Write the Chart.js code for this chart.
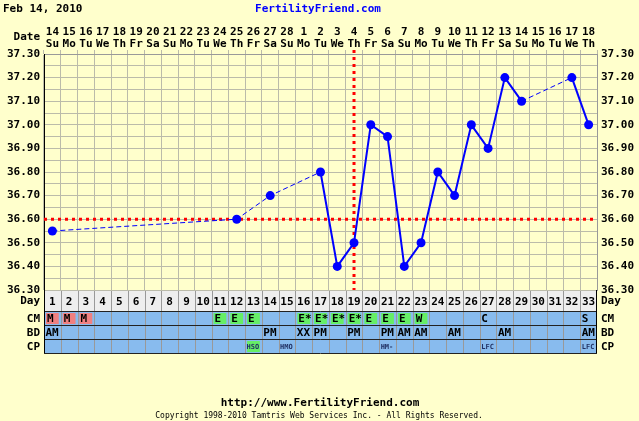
<!DOCTYPE html>
<html>
<head>
<meta charset="utf-8">
<script src="https://cdn.jsdelivr.net/npm/chart.js@4"></script>
<style>
  html, body { margin: 0; padding: 0; background: #ffffcc; }
  canvas { display: block; }
</style>
</head>
<body>
<canvas id="bbtChart" width="639" height="421"></canvas>
<script>
/*------------------------------DATA------------------------------*/
//Cykeldagar och datum
const cycleDays = ['1','2','3','4','5','6','7','8','9','10','11','12','13','14','15','16','17',
  '18','19','20','21','22','23','24','25','26','27','28','29','30','31','32','33'];
const dateNums = ['14','15','16','17','18','19','20','21','22','23','24','25','26','27','28',
  '1','2','3','4','5','6','7','8','9','10','11','12','13','14','15','16','17','18'];
const weekDays = ['Su','Mo','Tu','We','Th','Fr','Sa','Su','Mo','Tu','We','Th','Fr','Sa','Su',
  'Mo','Tu','We','Th','Fr','Sa','Su','Mo','Tu','We','Th','Fr','Sa','Su','Mo','Tu','We','Th'];

//Temperaturer, null = ingen mätning
const temps = [36.55, null, null, null, null, null, null, null, null, null, null, 36.60, null,
  36.70, null, null, 36.80, 36.40, 36.50, 37.00, 36.95, 36.40, 36.50, 36.80, 36.70, 37.00,
  36.90, 37.20, 37.10, null, null, 37.20, 37.00];

const coverLine = 36.60;
const ovulationDay = 19;

//Tabellrader under charten
const cmCodes = ['M','M','M','','','','','','','','E','E','E','','','E*','E*','E*','E*','E','E',
  'E','W','','','','C','','','','','','S'];
const bdCodes = ['AM','','','','','','','','','','','','','PM','','XX','PM','','PM','','PM','AM',
  'AM','','AM','','','AM','','','','','AM'];
const cpCodes = ['','','','','','','','','','','','','HSO','','HMO','','','','','','HM-','','',
  '','','','LFC','','','','','','LFC'];

/*------------------------------STYLE------------------------------*/
const pageColor = '#ffffcc';
const gridColor = '#bbbbaa';
const blue = '#0000ff';
const mono = '"DejaVu Sans Mono", monospace';
const dayRowH = 21;
const rowH = 14;

function cellColor(code) {
  if (code === 'M') return '#f08080';
  if (code === 'E' || code === 'E*' || code === 'W' || code === 'HSO') return '#66ee66';
  return null;
}

//Ritar bakgrund, röda linjer, tabell och texter
const sheetPlugin = {
  id: 'sheet',
  beforeDraw(chart) {
    const { ctx, chartArea: a } = chart;
    const xs = chart.scales.x;
    const cw = (a.right - a.left) / cycleDays.length;
    ctx.save();
    ctx.fillStyle = pageColor;
    ctx.fillRect(0, 0, chart.width, chart.height);
    //Day-raden
    ctx.fillStyle = '#eeeeee';
    ctx.fillRect(a.left, a.bottom, a.right - a.left, dayRowH);
    ctx.strokeStyle = '#999999';
    ctx.lineWidth = 1;
    for (let i = 1; i < cycleDays.length; i++) {
      const x = Math.round(xs.getPixelForValue(i) - cw / 2) + 0.5;
      ctx.beginPath();
      ctx.moveTo(x, a.bottom);
      ctx.lineTo(x, a.bottom + dayRowH);
      ctx.stroke();
    }
    ctx.restore();
  },
  beforeDatasetsDraw(chart) {
    const { ctx, chartArea: a } = chart;
    const ys = chart.scales.y;
    const xs = chart.scales.x;
    ctx.save();
    ctx.strokeStyle = '#ff0000';
    ctx.lineWidth = 3;
    ctx.setLineDash([3, 4]);
    const yc = ys.getPixelForValue(coverLine);
    ctx.beginPath();
    ctx.moveTo(a.left, yc);
    ctx.lineTo(a.right, yc);
    ctx.stroke();
    const xo = xs.getPixelForValue(ovulationDay - 1);
    ctx.beginPath();
    ctx.moveTo(xo, a.top - 4);
    ctx.lineTo(xo, a.bottom);
    ctx.stroke();
    ctx.restore();
  },
  afterDraw(chart) {
    const { ctx, chartArea: a } = chart;
    const xs = chart.scales.x;
    const cw = (a.right - a.left) / cycleDays.length;
    const top = a.bottom + dayRowH;
    const rows = [['CM', cmCodes], ['BD', bdCodes], ['CP', cpCodes]];
    ctx.save();

    //Blå rader
    ctx.fillStyle = '#88bbee';
    ctx.fillRect(a.left, top, a.right - a.left, rowH * 3);

    rows.forEach((row, r) => {
      const y0 = top + r * rowH;
      row[1].forEach((code, i) => {
        if (!code) return;
        const left = xs.getPixelForValue(i) - cw / 2;
        const bg = cellColor(code);
        if (bg) {
          ctx.fillStyle = bg;
          ctx.fillRect(left + 2, y0 + 2, cw - 4, rowH - 3);
        }
        if (r === 2) {
          ctx.font = 'bold 7px ' + mono;
          ctx.fillStyle = '#223366';
        } else {
          ctx.font = 'bold 11px ' + mono;
          ctx.fillStyle = '#000000';
        }
        ctx.textAlign = 'left';
        ctx.textBaseline = 'middle';
        ctx.fillText(code, left + (bg && r === 0 ? 3 : 1.5), y0 + rowH / 2 + 1);
      });
    });

    //Kolumnlinjer i tabellen
    ctx.strokeStyle = '#999999';
    ctx.lineWidth = 1;
    for (let i = 1; i < cycleDays.length; i++) {
      const x = Math.round(xs.getPixelForValue(i) - cw / 2) + 0.5;
      ctx.beginPath();
      ctx.moveTo(x, top);
      ctx.lineTo(x, top + rowH * 3);
      ctx.stroke();
    }
    //Radlinjer
    ctx.strokeStyle = '#222222';
    for (let r = 0; r <= 3; r++) {
      const y = Math.round(top + r * rowH) + 0.5;
      ctx.beginPath();
      ctx.moveTo(a.left, y);
      ctx.lineTo(a.right, y);
      ctx.stroke();
    }
    ctx.strokeStyle = '#000000';
    ctx.beginPath();
    ctx.moveTo(Math.round(a.left) + 0.5, a.bottom);
    ctx.lineTo(Math.round(a.left) + 0.5, top + rowH * 3);
    ctx.stroke();
    ctx.beginPath();
    ctx.moveTo(Math.round(a.right) - 0.5, a.bottom);
    ctx.lineTo(Math.round(a.right) - 0.5, top + rowH * 3);
    ctx.stroke();

    //Radetiketter vänster/höger
    ctx.font = 'bold 11px ' + mono;
    ctx.fillStyle = '#000000';
    ctx.textBaseline = 'middle';
    const labels = [['Day', a.bottom + dayRowH / 2 + 1], ['CM', top + rowH / 2 + 1],
      ['BD', top + rowH * 1.5 + 1], ['CP', top + rowH * 2.5 + 1]];
    labels.forEach((l) => {
      ctx.textAlign = 'right';
      ctx.fillText(l[0], a.left - 4, l[1]);
      ctx.textAlign = 'left';
      ctx.fillText(l[0], a.right + 4, l[1]);
    });
    ctx.textAlign = 'right';
    ctx.fillText('Date', a.left - 4, 37);

    //Rubrik
    ctx.textAlign = 'left';
    ctx.fillText('Feb 14, 2010', 3, 9);
    ctx.fillStyle = blue;
    ctx.textAlign = 'center';
    ctx.fillText('FertilityFriend.com', 318, 9);

    //Sidfot
    ctx.fillStyle = '#000000';
    ctx.fillText('http://www.FertilityFriend.com', 320, 403);
    ctx.font = '8px ' + mono;
    ctx.fillText('Copyright 1998-2010 Tamtris Web Services Inc. - All Rights Reserved.', 319, 416);
    ctx.restore();
  }
};

/*------------------------------CHART------------------------------*/
//Streckad linje där mätningar saknas
const isGap = (ctx) => ctx.p0.skip || ctx.p1.skip;

const yTick = (v) => (Math.round(v * 100) % 10 === 0 ? v.toFixed(2) : '');

new Chart(document.getElementById('bbtChart'), {
  type: 'line',
  data: {
    labels: cycleDays,
    datasets: [
      {
        data: temps,
        xAxisID: 'x',
        yAxisID: 'y',
        borderColor: blue,
        backgroundColor: blue,
        borderWidth: 2,
        pointRadius: 4.5,
        pointHoverRadius: 4.5,
        pointBorderWidth: 0,
        spanGaps: true,
        tension: 0,
        segment: {
          borderDash: (ctx) => (isGap(ctx) ? [5, 3] : undefined),
          borderWidth: (ctx) => (isGap(ctx) ? 1 : undefined),
        },
      },
    ],
  },
  options: {
    responsive: false,
    animation: false,
    events: [],
    layout: { padding: { top: 0, left: 0, right: 0, bottom: 110 } },
    font: { family: mono },
    plugins: {
      legend: { display: false },
      tooltip: { enabled: false },
    },
    scales: {
      x: {
        type: 'category',
        position: 'top',
        offset: true,
        grid: { offset: true, color: gridColor, tickLength: 4 },
        border: { color: '#999999' },
        ticks: {
          autoSkip: false,
          maxRotation: 0,
          padding: 0,
          color: '#000000',
          font: { family: mono, size: 11, weight: 'bold', lineHeight: '12px' },
          callback: (v, i) => [dateNums[i], weekDays[i]],
        },
        afterFit: (s) => { s.height = 54; },
      },
      x2: {
        type: 'category',
        position: 'bottom',
        offset: true,
        grid: { display: false },
        border: { display: false },
        ticks: {
          autoSkip: false,
          maxRotation: 0,
          padding: -2,
          color: '#000000',
          font: { family: mono, size: 11, weight: 'bold', lineHeight: '12px' },
        },
        afterFit: (s) => { s.height = dayRowH; },
      },
      y: {
        position: 'left',
        min: 36.3,
        max: 37.3,
        grid: { color: gridColor, drawTicks: false },
        border: { color: '#000000' },
        ticks: {
          stepSize: 0.05,
          autoSkip: false,
          padding: 4,
          color: '#000000',
          font: { family: mono, size: 11, weight: 'bold' },
          callback: yTick,
        },
        afterFit: (s) => { s.width = 44; },
      },
      y2: {
        position: 'right',
        min: 36.3,
        max: 37.3,
        grid: { drawOnChartArea: false, drawTicks: false },
        border: { color: '#999999' },
        ticks: {
          stepSize: 0.05,
          autoSkip: false,
          padding: 4,
          color: '#000000',
          font: { family: mono, size: 11, weight: 'bold' },
          callback: yTick,
        },
        afterFit: (s) => { s.width = 42; },
      },
    },
  },
  plugins: [sheetPlugin],
});
</script>
</body>
</html>
